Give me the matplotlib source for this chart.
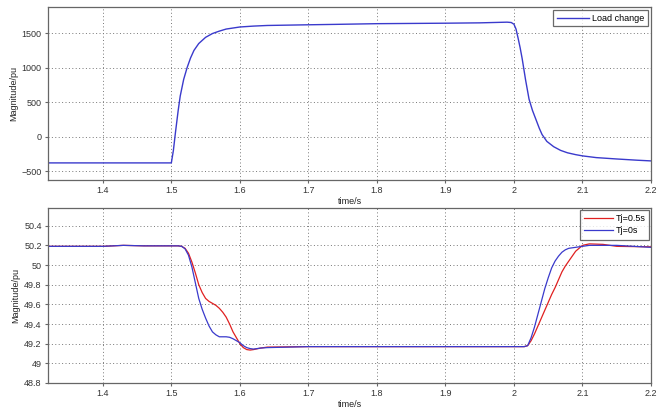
import matplotlib
matplotlib.use("Agg")
import matplotlib.pyplot as plt
import numpy as np

# Top panel: load change
t_load = [1.32, 1.40, 1.45, 1.50, 1.503, 1.506, 1.510, 1.513, 1.518, 1.523, 1.528, 1.533, 1.540, 1.55, 1.56, 1.57, 1.58, 1.60, 1.62, 1.64, 1.70, 1.74, 1.80, 1.90, 1.95, 1.99, 1.996, 2.0, 2.003, 2.006, 2.009, 2.012, 2.017, 2.022, 2.027, 2.032, 2.037, 2.041, 2.048, 2.058, 2.068, 2.078, 2.09, 2.10, 2.12, 2.15, 2.18, 2.20]
p_load = [-382, -382, -382, -382, -200, 59, 380, 590, 830, 1000, 1140, 1250, 1350, 1440, 1495, 1530, 1560, 1590, 1603, 1612, 1622, 1628, 1638, 1645, 1650, 1660, 1655, 1630, 1560, 1430, 1290, 1130, 820, 544, 380, 250, 120, 30, -70, -147, -200, -235, -262, -280, -305, -325, -343, -353]

# Bottom panel: frequency
t_f = [1.32, 1.36, 1.40, 1.43, 1.46, 1.50, 1.51, 1.515, 1.52, 1.525, 1.53, 1.535, 1.54, 1.545, 1.55, 1.555, 1.56, 1.565, 1.57, 1.575, 1.58, 1.585, 1.59, 1.595, 1.60, 1.605, 1.61, 1.615, 1.62, 1.63, 1.64, 1.70, 1.80, 1.90, 2.00, 2.015, 2.02, 2.025, 2.03, 2.035, 2.04, 2.045, 2.05, 2.055, 2.06, 2.065, 2.07, 2.075, 2.08, 2.09, 2.10, 2.11, 2.13, 2.15, 2.20]
f_tj05 = [50.19, 50.19, 50.19, 50.20, 50.195, 50.195, 50.195, 50.19, 50.17, 50.12, 50.03, 49.92, 49.80, 49.72, 49.66, 49.63, 49.61, 49.59, 49.56, 49.52, 49.47, 49.40, 49.32, 49.26, 49.20, 49.16, 49.14, 49.135, 49.14, 49.155, 49.165, 49.17, 49.17, 49.17, 49.17, 49.17, 49.18, 49.23, 49.30, 49.38, 49.46, 49.54, 49.62, 49.70, 49.77, 49.85, 49.93, 49.99, 50.04, 50.14, 50.20, 50.215, 50.21, 50.19, 50.185]
f_tj0 = [50.19, 50.19, 50.19, 50.20, 50.195, 50.195, 50.195, 50.19, 50.165, 50.10, 49.98, 49.82, 49.66, 49.55, 49.46, 49.38, 49.32, 49.29, 49.27, 49.27, 49.27, 49.265, 49.25, 49.23, 49.21, 49.18, 49.16, 49.15, 49.145, 49.155, 49.16, 49.17, 49.17, 49.17, 49.17, 49.17, 49.18, 49.26, 49.37, 49.50, 49.63, 49.76, 49.87, 49.97, 50.04, 50.09, 50.13, 50.155, 50.17, 50.18, 50.19, 50.20, 50.20, 50.20, 50.18]

xticks = [1.4, 1.5, 1.6, 1.7, 1.8, 1.9, 2.0, 2.1, 2.2]
xticklabels = ["1.4", "1.5", "1.6", "1.7", "1.8", "1.9", "2", "2.1", "2.2"]
yticks_top = [-500, 0, 500, 1000, 1500]
yticks_bot = [48.8, 49.0, 49.2, 49.4, 49.6, 49.8, 50.0, 50.2, 50.4]
yticklabels_bot = ["48.8", "49", "49.2", "49.4", "49.6", "49.8", "50", "50.2", "50.4"]

plt.rcParams['font.family'] = ['Liberation Sans', 'DejaVu Sans']
plt.rcParams['font.size'] = 6.5

fig = plt.figure(figsize=(6.7, 4.09), dpi=100)
ax1 = fig.add_axes([48/670, 1-180/409, 603/670, 173/409])
ax2 = fig.add_axes([48/670, 1-383/409, 603/670, 175/409])

edge = '#666666'
for ax in (ax1, ax2):
    ax.set_xlim(1.32, 2.2)
    ax.set_xticks(xticks)
    ax.set_xticklabels(xticklabels)
    ax.grid(True, linestyle=(0, (1, 2.5)), color='#777777', linewidth=0.7)
    ax.tick_params(direction='out', length=2.5, color='#666666', labelcolor='#333333', labelsize=6.5, pad=2)
    for s in ax.spines.values():
        s.set_color(edge)
        s.set_linewidth(0.9)
    ax.set_xlabel("time/s", fontsize=6.5, labelpad=1, color='#222222')
    ax.set_ylabel("Magnitude/pu", fontsize=6.5, labelpad=2.5, color='#222222')

ax1.plot(t_load, p_load, color='#3a3acc', linewidth=1.0, label='Load change')
ax1.set_ylim(-630, 1880)
ax1.set_yticks(yticks_top)
leg1 = ax1.legend(loc='upper right', fontsize=6.5, fancybox=False, edgecolor='#444444',
                  handlelength=3.6, handletextpad=0.3, borderaxespad=0.35, borderpad=0.4)
leg1.get_frame().set_linewidth(0.9)

ax2.plot(t_f, f_tj05, color='#e02020', linewidth=0.9, label='Tj=0.5s')
ax2.plot(t_f, f_tj0, color='#3a3acc', linewidth=0.9, label='Tj=0s')
ax2.set_ylim(48.8, 50.58)
ax2.set_yticks(yticks_bot)
ax2.set_yticklabels(yticklabels_bot)
leg2 = ax2.legend(loc='upper right', fontsize=6.5, fancybox=False, edgecolor='#444444',
                  handlelength=3.2, handletextpad=0.3, borderaxespad=0.2, borderpad=0.45,
                  labelspacing=0.4)
leg2.get_frame().set_linewidth(0.9)

fig.savefig("out.png", dpi=100, facecolor='white')
